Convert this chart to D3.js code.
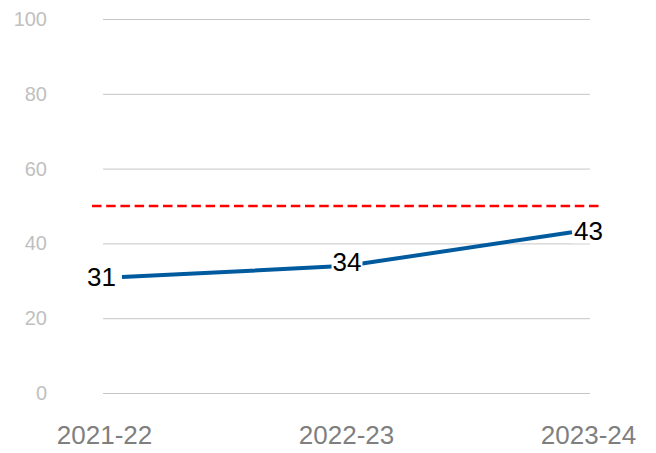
<!DOCTYPE html>
<html>
<head>
<meta charset="utf-8">
<script src="https://cdn.jsdelivr.net/npm/d3@7"></script>
<style>
  body { margin: 0; background: #fff; }
  svg { display: block; font-family: "Liberation Sans", Arial, sans-serif; }
</style>
</head>
<body>
<svg id="chart" width="656" height="453"></svg>
<script>
var years = ["2021-22", "2022-23", "2023-24"];
var values = [31, 34, 43];
var yTicks = [0, 20, 40, 60, 80, 100];
var targetValue = 50;

var svg = d3.select("#chart");
var gridLeft = 103, gridRight = 590;

var xScale = d3.scalePoint()
  .domain(years)
  .range([122, 572]);

// category labels sit a bit wider than the points
var xLabelScale = d3.scalePoint()
  .domain(years)
  .range([104, 588]);

var yScale = d3.scaleLinear()
  .domain([0, 100])
  .range([393, 19]);

// gridlines
svg.append("g")
  .selectAll("line")
  .data(yTicks)
  .join("line")
  .attr("x1", gridLeft)
  .attr("x2", gridRight)
  .attr("y1", function(d) { return yScale(d) + 0.5; })
  .attr("y2", function(d) { return yScale(d) + 0.5; })
  .attr("stroke", "#c6c6c6")
  .attr("stroke-width", 1);

// y axis labels
var yAxis = d3.axisLeft(yScale).tickValues(yTicks).tickSize(0).tickPadding(0);
var yg = svg.append("g")
  .attr("transform", "translate(47,0)")
  .call(yAxis);
yg.select(".domain").remove();
yg.selectAll("text")
  .attr("fill", "#c0c0c0")
  .style("font-size", "20px")
  .style("font-family", "Liberation Sans, Arial, sans-serif");

// x axis labels
var xAxis = d3.axisBottom(xLabelScale).tickSize(0).tickPadding(0);
var xg = svg.append("g")
  .attr("transform", "translate(0,426)")
  .call(xAxis);
xg.select(".domain").remove();
xg.selectAll("text")
  .attr("fill", "#7f7f7f")
  .style("font-size", "26px")
  .style("font-family", "Liberation Sans, Arial, sans-serif");

// target line
svg.append("line")
  .attr("x1", 92)
  .attr("x2", 602)
  .attr("y1", yScale(targetValue))
  .attr("y2", yScale(targetValue))
  .attr("stroke", "#ff0000")
  .attr("stroke-width", 2.5)
  .attr("stroke-dasharray", "9.5,4.7");

// series line
var line = d3.line()
  .x(function(d, i) { return xScale(years[i]); })
  .y(function(d) { return yScale(d); });

svg.append("path")
  .datum(values)
  .attr("d", line)
  .attr("fill", "none")
  .attr("stroke", "#005a9e")
  .attr("stroke-width", 4);

// data labels with white boxes
var labelPos = [
  { anchor: "end", dx: -6, dy: 0 },
  { anchor: "middle", dx: 0, dy: -4 },
  { anchor: "start", dx: 2, dy: -1 }
];

values.forEach(function(v, i) {
  var g = svg.append("g");
  var t = g.append("text")
    .attr("x", xScale(years[i]) + labelPos[i].dx)
    .attr("y", yScale(v) + labelPos[i].dy)
    .attr("dy", "0.35em")
    .attr("text-anchor", labelPos[i].anchor)
    .attr("fill", "#000")
    .style("font-size", "26px")
    .text(v);
  var bb = t.node().getBBox();
  g.insert("rect", "text")
    .attr("x", bb.x - 1)
    .attr("y", bb.y + 3)
    .attr("width", bb.width + 2)
    .attr("height", bb.height - 6)
    .attr("fill", "#fff");
});
</script>
</body>
</html>
